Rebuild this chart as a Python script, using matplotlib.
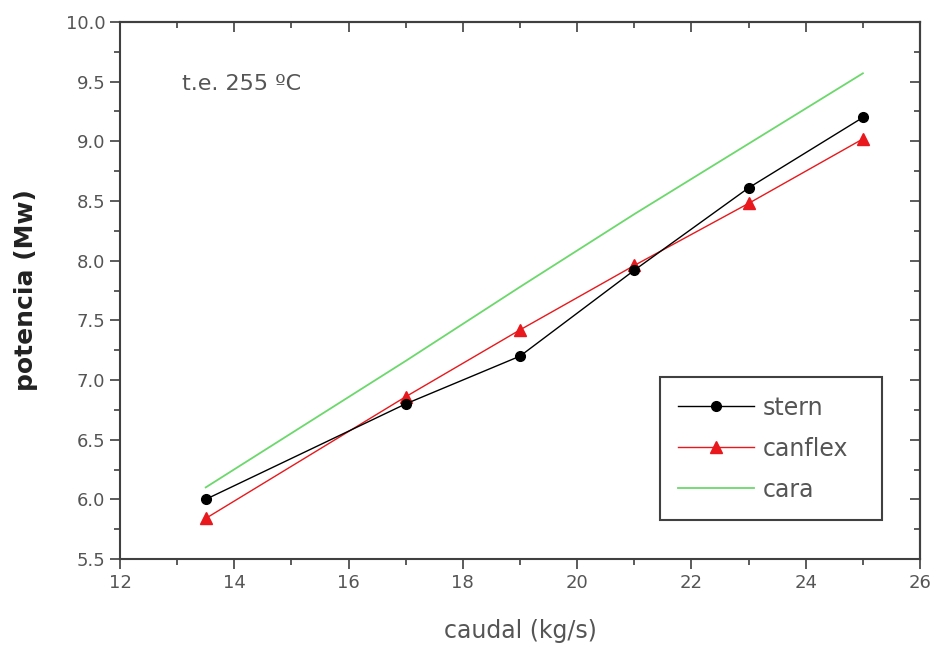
import matplotlib
matplotlib.use('Agg')
import matplotlib.pyplot as plt
from matplotlib.ticker import MultipleLocator

# caudal (kg/s) vs potencia (Mw), t.e. 255 C
caudal = [13.5, 17, 19, 21, 23, 25]
stern = [6.00, 6.80, 7.20, 7.92, 8.61, 9.20]
canflex = [5.84, 6.86, 7.42, 7.96, 8.48, 9.02]
cara = [6.10, 7.16, 7.78, 8.39, 8.98, 9.57]

plt.rcParams['font.family'] = ['DejaVu Sans']

fig = plt.figure(figsize=(9.39, 6.47), dpi=100)
ax = fig.add_axes([0.1278, 0.136, 0.852, 0.830])

ax.plot(caudal, stern, color='black', lw=1.0, marker='o', ms=7, label='stern', zorder=4)
ax.plot(caudal, canflex, color='#e8181c', lw=1.0, marker='^', ms=9, label='canflex', zorder=3)
ax.plot(caudal, cara, color='#6cd86c', lw=1.3, label='cara', zorder=2)

ax.set_xlim(12, 26)
ax.set_ylim(5.5, 10.0)
ax.xaxis.set_major_locator(MultipleLocator(2))
ax.xaxis.set_minor_locator(MultipleLocator(1))
ax.yaxis.set_major_locator(MultipleLocator(0.5))
ax.yaxis.set_minor_locator(MultipleLocator(0.25))
ax.yaxis.set_major_formatter(matplotlib.ticker.FormatStrFormatter('%.1f'))

for s in ax.spines.values():
    s.set_linewidth(1.5)
    s.set_color('#404040')

ax.tick_params(which='both', direction='out', colors='#404040', labelcolor='#555555',
               labelsize=13, width=1.2)
ax.tick_params(which='major', length=7)
ax.tick_params(which='minor', length=4)

# mirrored inward ticks on top and right
axt = ax.secondary_xaxis('top')
axt.xaxis.set_major_locator(MultipleLocator(2))
axt.xaxis.set_minor_locator(MultipleLocator(1))
axt.tick_params(which='both', direction='in', labeltop=False, colors='#404040', width=1.2)
axt.tick_params(which='major', length=7)
axt.tick_params(which='minor', length=4)
axr = ax.secondary_yaxis('right')
axr.yaxis.set_major_locator(MultipleLocator(0.5))
axr.yaxis.set_minor_locator(MultipleLocator(0.25))
axr.tick_params(which='both', direction='in', labelright=False, colors='#404040', width=1.2)
axr.tick_params(which='major', length=7)
axr.tick_params(which='minor', length=4)
for a in (axt, axr):
    for s in a.spines.values():
        s.set_linewidth(1.5)
        s.set_color('#404040')

ax.set_xlabel('caudal (kg/s)', fontsize=17, color='#555555', labelpad=20)
ax.set_ylabel('potencia (Mw)', fontsize=18, fontweight='bold', color='#222222', labelpad=20)

ax.text(0.078, 0.885, 't.e. 255 ºC', transform=ax.transAxes, fontsize=16,
        color='#555555', va='center')

leg = ax.legend(loc='lower left', bbox_to_anchor=(0.675, 0.0726, 0.2775, 0.266),
                mode='expand', fontsize=17, handlelength=3.2, handletextpad=0.35,
                labelspacing=0.72, borderpad=0.78, fancybox=False, framealpha=1,
                borderaxespad=0)
leg.get_frame().set_edgecolor('#404040')
leg.get_frame().set_linewidth(1.5)
for t in leg.get_texts():
    t.set_color('#555555')

fig.savefig('out.png', dpi=100)
